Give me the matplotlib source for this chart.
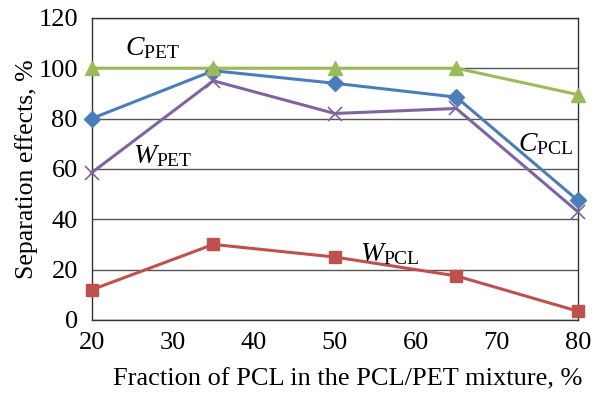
import matplotlib
matplotlib.use("Agg")
import matplotlib.pyplot as plt

plt.rcParams['font.family'] = ['Liberation Serif', 'DejaVu Serif']
plt.rcParams['mathtext.fontset'] = 'custom'
plt.rcParams['mathtext.rm'] = 'Liberation Serif'
plt.rcParams['mathtext.it'] = 'Liberation Serif:italic'

fraction = [20, 35, 50, 65, 80]
c_pet = [100, 100, 100, 100, 89.5]
c_pcl = [80, 99, 94, 88.5, 47.5]
w_pet = [58.5, 95, 82, 84, 43]
w_pcl = [12, 30, 25, 17.5, 3.5]

fig = plt.figure(figsize=(5.92, 3.96), dpi=100)
ax = fig.add_axes([0.155, 0.192, 0.821, 0.763])

ax.plot(fraction, w_pcl, color='#C0504D', lw=2.2, marker='s', ms=8, clip_on=False, zorder=3)
ax.plot(fraction, w_pet, color='#8064A2', lw=2.2, marker='x', ms=10, mew=1.2, clip_on=False, zorder=3)
ax.plot(fraction, c_pcl, color='#4A7EBB', lw=2.2, marker='D', ms=8, clip_on=False, zorder=4)
ax.plot(fraction, c_pet, color='#9BBB59', lw=2.2, marker='^', ms=10, clip_on=False, zorder=5)

ax.set_xlim(20, 80)
ax.set_ylim(0, 120)
ax.set_xticks(range(20, 81, 10))
ax.set_yticks(range(0, 121, 20))
ax.yaxis.grid(True, color='#555555', lw=1)
ax.set_axisbelow(True)
ax.tick_params(length=0, labelsize=19)
ax.tick_params(axis='y', pad=10)
ax.tick_params(axis='x', pad=9)
for s in ax.spines.values():
    s.set_color('#333333')
    s.set_linewidth(1)

ax.set_xlabel('Fraction of PCL in the PCL/PET mixture, %', fontsize=19, labelpad=13)
ax.xaxis.set_label_coords(0.527, -0.16)
ax.set_ylabel('Separation effects, %', fontsize=18.5, labelpad=0)

ax.text(27.5, 108, r'$C_{\mathrm{PET}}$', fontsize=20, ha='center', va='center')
ax.text(28.8, 65, r'$W_{\mathrm{PET}}$', fontsize=20, ha='center', va='center')
ax.text(76, 70, r'$C_{\mathrm{PCL}}$', fontsize=20, ha='center', va='center')
ax.text(56.8, 26, r'$W_{\mathrm{PCL}}$', fontsize=20, ha='center', va='center')

fig.savefig('out.png', dpi=100)
